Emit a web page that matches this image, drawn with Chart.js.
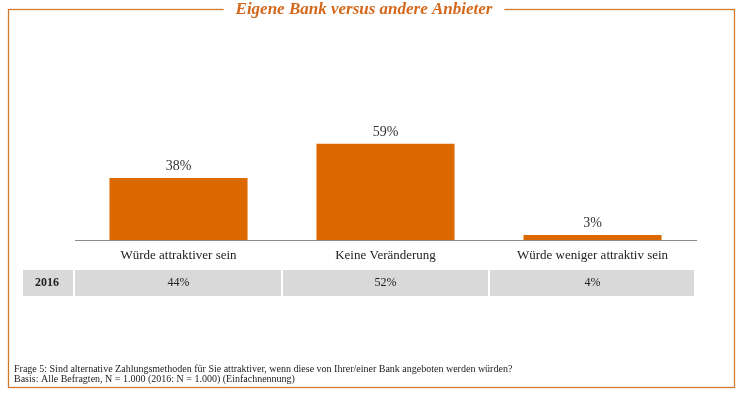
<!DOCTYPE html>
<html>
<head>
<meta charset="utf-8">
<script src="https://cdn.jsdelivr.net/npm/chart.js@4/dist/chart.umd.min.js"></script>
<style>
  html, body { margin: 0; padding: 0; background: #ffffff; }
  #wrap { width: 740px; height: 393px; position: relative; }
</style>
</head>
<body>
<div id="wrap"><canvas id="chart" width="740" height="393"></canvas></div>
<script>
(function () {
  var TITLE = 'Eigene Bank versus andere Anbieter';
  var categories = ['Würde attraktiver sein', 'Keine Veränderung', 'Würde weniger attraktiv sein'];
  var values2019 = [38, 59, 3];
  var compareLabel = '2016';
  var values2016 = [44, 52, 4];
  var footnotes = [
    'Frage 5: Sind alternative Zahlungsmethoden für Sie attraktiver, wenn diese von Ihrer/einer Bank angeboten werden würden?',
    'Basis: Alle Befragten, N = 1.000 (2016: N = 1.000) (Einfachnennung)'
  ];

  var ORANGE = '#dc6900';
  var FRAME = '#cf7a2c';
  var SERIF = "'Liberation Serif', 'DejaVu Serif', serif";

  function pct(v) {
    return v + '%';
  }

  var framePlugin = {
    id: 'frame',
    beforeDraw: function (chart) {
      var ctx = chart.ctx;
      ctx.save();
      ctx.fillStyle = '#ffffff';
      ctx.fillRect(0, 0, chart.width, chart.height);
      ctx.strokeStyle = FRAME;
      ctx.lineWidth = 1.3;
      ctx.strokeRect(8.5, 9.5, 726, 378);

      ctx.font = 'italic bold 17px ' + SERIF;
      var w = ctx.measureText(TITLE).width;
      var cx = 364;
      ctx.fillStyle = '#ffffff';
      ctx.fillRect(cx - w / 2 - 12, 0, w + 24, 20);
      ctx.fillStyle = '#d4681c';
      ctx.textAlign = 'center';
      ctx.textBaseline = 'middle';
      ctx.fillText(TITLE, cx, 10);

      ctx.font = '10px ' + SERIF;
      ctx.fillStyle = '#222222';
      ctx.textAlign = 'left';
      footnotes.forEach(function (line, i) {
        ctx.fillText(line, 14, 369 + i * 10.5);
      });
      ctx.restore();
    }
  };

  var labelsPlugin = {
    id: 'valueLabels',
    afterDatasetsDraw: function (chart) {
      var ctx = chart.ctx;
      var meta = chart.getDatasetMeta(0);
      ctx.save();
      ctx.font = '14px ' + SERIF;
      ctx.fillStyle = '#333333';
      ctx.textAlign = 'center';
      ctx.textBaseline = 'middle';
      meta.data.forEach(function (bar, i) {
        ctx.fillText(pct(values2019[i]), bar.x, bar.y - 12);
      });
      ctx.restore();
    }
  };

  var tablePlugin = {
    id: 'compareTable',
    afterDraw: function (chart) {
      var ctx = chart.ctx;
      var area = chart.chartArea;
      var xs = chart.scales.x;
      var top = 270, h = 26;
      var cellW = (area.right - area.left) / categories.length;
      ctx.save();
      ctx.fillStyle = '#d9d9d9';
      ctx.fillRect(23, top, 50, h);
      categories.forEach(function (c, i) {
        var left = area.left + i * cellW + (i > 0 ? 1 : 0);
        var right = area.left + (i + 1) * cellW - (i < categories.length - 1 ? 1 : 2);
        ctx.fillRect(left, top, right - left, h);
      });
      ctx.fillStyle = '#222222';
      ctx.textAlign = 'center';
      ctx.textBaseline = 'middle';
      ctx.font = 'bold 12px ' + SERIF;
      ctx.fillText(compareLabel, 47, top + h / 2);
      ctx.font = '12px ' + SERIF;
      values2016.forEach(function (v, i) {
        ctx.fillText(pct(v), xs.getPixelForValue(i), top + h / 2);
      });
      ctx.restore();
    }
  };

  new Chart(document.getElementById('chart'), {
    type: 'bar',
    data: {
      labels: categories,
      datasets: [
        {
          label: '2019',
          data: values2019,
          backgroundColor: ORANGE,
          borderWidth: 0,
          categoryPercentage: 1,
          barPercentage: 0.667
        }
      ]
    },
    options: {
      responsive: false,
      animation: false,
      devicePixelRatio: 1,
      layout: {
        padding: { left: 75, right: 44, top: 77, bottom: 0 }
      },
      scales: {
        x: {
          grid: { display: false, drawTicks: false },
          border: { display: true, color: '#8c8c8c', width: 1 },
          ticks: {
            color: '#222222',
            padding: 8,
            maxRotation: 0,
            font: { family: SERIF, size: 13 }
          },
          afterFit: function (scale) {
            scale.height = 153;
          }
        },
        y: {
          display: false,
          min: 0,
          max: 100
        }
      },
      plugins: {
        legend: { display: false },
        tooltip: { enabled: false }
      }
    },
    plugins: [framePlugin, labelsPlugin, tablePlugin]
  });
})();
</script>
</body>
</html>
